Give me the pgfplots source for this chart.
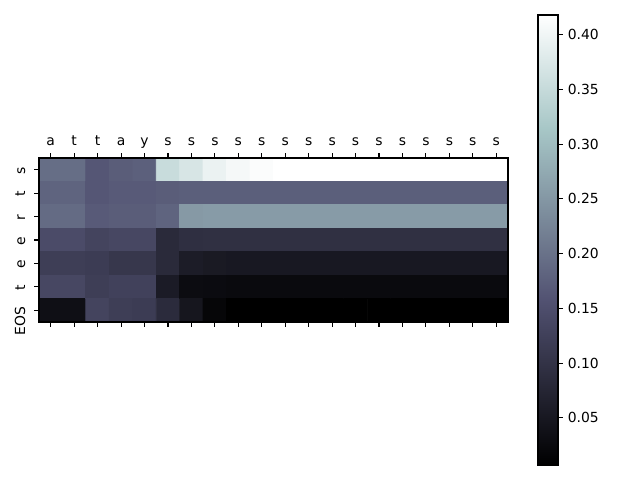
\documentclass[border=0pt]{standalone}
\usepackage{pgfplots}
\pgfplotsset{compat=1.18}
\usepackage{fontspec}
\setmainfont{DejaVu Sans}
\pgfplotsset{
  /pgf/number format/assume math mode=true,
  colormap={bone}{rgb(0cm)=(0,0,0); rgb(3.65079cm)=(0.319444,0.319444,0.444444); rgb(7.46032cm)=(0.652778,0.777778,0.777778); rgb(10cm)=(1,1,1)},
}
\begin{document}
\begin{tikzpicture}
\useasboundingbox (0,0) rectangle (460.8pt,345.6pt);
\begin{axis}[
  at={(28.08pt,113.76pt)}, anchor=south west,
  scale only axis, width=337.68pt, height=118.08pt,
  xmin=-0.5, xmax=19.5, ymin=-0.5, ymax=6.5, y dir=reverse,
  xtick={0,...,19},
  xticklabels={a,t,t,a,y,s,s,s,s,s,s,s,s,s,s,s,s,s,s,s},
  xtick pos=both, xticklabel pos=upper,
  xticklabel style={text height=7.3pt, text depth=2.3pt},
  ytick={0,...,6}, yticklabels={s,t,r,e,e,t,EOS}, ytick pos=left,
  yticklabel style={rotate=90, anchor=south east, inner xsep=-2.9pt, inner ysep=6.2pt},
  tick align=outside, major tick length=3.5pt,
  every tick/.style={black, line width=0.8pt},
  axis line style={line width=0.8pt},
  axis on top,
  ticklabel style={font=\fontsize{10pt}{12pt}\selectfont},
  colormap name=bone,
  point meta min=0.007, point meta max=0.418,
  colorbar,
  colorbar style={
    at={(parent axis.south east)}, anchor=south west,
    xshift=13.06pt, yshift=-102.96pt,
    scale only axis, width=14.4pt, height=324pt,
    ytick={0.05,0.10,0.15,0.20,0.25,0.30,0.35,0.40},
    ytick pos=right,
    yticklabel style={/pgf/number format/.cd, fixed, fixed zerofill, precision=2, assume math mode=true},
    ticklabel style={font=\fontsize{10pt}{12pt}\selectfont},
    tick align=outside, major tick length=3.5pt,
    every tick/.style={black, line width=0.8pt},
    axis line style={line width=0.8pt},
  },
]
\addplot[matrix plot, shader=faceted, faceted color=mapped color, line width=0.6pt, mesh/cols=20, point meta=explicit] table[meta=c] {
x y c
0 0 0.195
1 0 0.195
2 0 0.163
3 0 0.172
4 0 0.176
5 0 0.353
6 0 0.371
7 0 0.394
8 0 0.406
9 0 0.413
10 0 0.418
11 0 0.418
12 0 0.418
13 0 0.418
14 0 0.418
15 0 0.418
16 0 0.418
17 0 0.418
18 0 0.418
19 0 0.418
0 1 0.182
1 1 0.182
2 1 0.163
3 1 0.169
4 1 0.169
5 1 0.172
6 1 0.175
7 1 0.175
8 1 0.175
9 1 0.175
10 1 0.175
11 1 0.175
12 1 0.175
13 1 0.175
14 1 0.175
15 1 0.175
16 1 0.175
17 1 0.175
18 1 0.175
19 1 0.175
0 2 0.191
1 2 0.191
2 2 0.169
3 2 0.172
4 2 0.172
5 2 0.182
6 2 0.253
7 2 0.256
8 2 0.256
9 2 0.256
10 2 0.256
11 2 0.256
12 2 0.256
13 2 0.256
14 2 0.256
15 2 0.256
16 2 0.256
17 2 0.256
18 2 0.256
19 2 0.256
0 3 0.145
1 3 0.145
2 3 0.132
3 3 0.137
4 3 0.137
5 3 0.084
6 3 0.093
7 3 0.095
8 3 0.095
9 3 0.095
10 3 0.095
11 3 0.095
12 3 0.095
13 3 0.095
14 3 0.095
15 3 0.095
16 3 0.095
17 3 0.095
18 3 0.095
19 3 0.095
0 4 0.121
1 4 0.121
2 4 0.118
3 4 0.108
4 4 0.108
5 4 0.084
6 4 0.058
7 4 0.054
8 4 0.052
9 4 0.052
10 4 0.052
11 4 0.052
12 4 0.052
13 4 0.052
14 4 0.052
15 4 0.052
16 4 0.052
17 4 0.052
18 4 0.052
19 4 0.052
0 5 0.137
1 5 0.137
2 5 0.121
3 5 0.127
4 5 0.127
5 5 0.057
6 5 0.029
7 5 0.028
8 5 0.026
9 5 0.026
10 5 0.026
11 5 0.026
12 5 0.026
13 5 0.026
14 5 0.026
15 5 0.026
16 5 0.026
17 5 0.026
18 5 0.026
19 5 0.026
0 6 0.035
1 6 0.035
2 6 0.132
3 6 0.121
4 6 0.118
5 6 0.086
6 6 0.047
7 6 0.018
8 6 0.007
9 6 0.007
10 6 0.007
11 6 0.007
12 6 0.007
13 6 0.007
14 6 0.007
15 6 0.007
16 6 0.007
17 6 0.007
18 6 0.007
19 6 0.007
};
\end{axis}
\end{tikzpicture}
\end{document}
